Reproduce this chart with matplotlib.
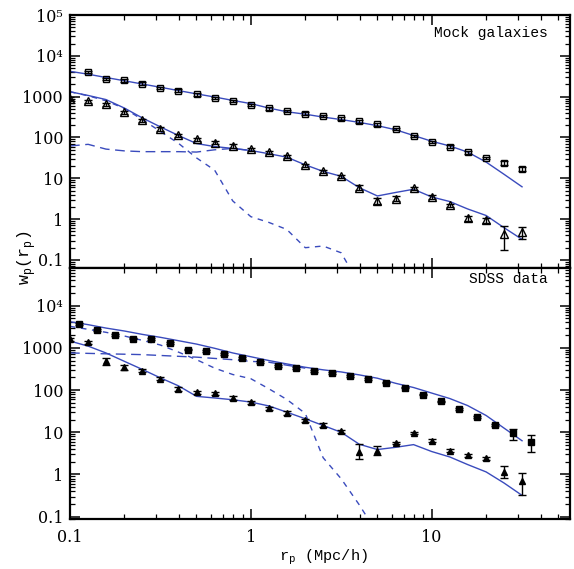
import numpy as np
import matplotlib
matplotlib.use('Agg')
from matplotlib import pyplot as plt
from matplotlib.ticker import FixedLocator, LogLocator, FuncFormatter, NullFormatter

plt.rcParams['mathtext.fontset'] = 'custom'
plt.rcParams['mathtext.rm'] = 'Liberation Mono'

# ---- data ----
# bin centres (Mpc/h)
rp_bins = [0.1, 0.126, 0.158, 0.2, 0.251, 0.316, 0.398, 0.501, 0.631, 0.794,
           1.0, 1.26, 1.58, 2.0, 2.51, 3.16, 3.98, 5.01, 6.31, 7.94,
           10.0, 12.6, 15.8, 20.0, 25.1, 31.6]
rp_sdss = [0.112, 0.141, 0.178, 0.224, 0.282, 0.355, 0.447, 0.562, 0.708, 0.891,
           1.12, 1.41, 1.78, 2.24, 2.82, 3.55, 4.47, 5.62, 7.08, 8.91,
           11.2, 14.1, 17.8, 22.4, 28.2, 35.5]

# top panel: mock galaxies
mock_sq = [3980, 2750, 2510, 2090, 1620, 1410, 1140, 925, 795, 630, 516, 444,
           383, 335, 294, 248, 209, 164, 108, 77, 60, 43, 31, 24, 16.8]
mock_sq_err = [0.03]*23 + [0.05, 0.05]
mock_tri = [890, 776, 646, 417, 263, 162, 112, 90, 74, 62, 51, 43, 34.4,
            20.9, 14.8, 11.3, 5.9, 2.8, 3.2, 5.7, 3.5, 2.2, 1.04, 0.93, 0.44, 0.49]
mock_tri_lo = [0.04]*16 + [0.06, 0.07, 0.06, 0.04, 0.04, 0.04, 0.07, 0.06, 0.40, 0.17]
mock_tri_hi = [0.04]*16 + [0.06, 0.07, 0.06, 0.04, 0.04, 0.04, 0.07, 0.06, 0.19, 0.11]

mock_model_hi = [4170, 3550, 2950, 2450, 2040, 1700, 1410, 1170, 980, 810, 676,
                 525, 427, 372, 316, 275, 234, 195, 155, 112, 81, 62, 44, 25, 12.6, 6.2]
mock_model_lo = [1320, 1070, 850, 525, 302, 182, 112, 71, 60, 54, 48, 40, 33,
                 21.4, 14.8, 11.2, 5.9, 3.7, 4.5, 5.4, 3.5, 2.7, 1.78, 1.23, 0.62, 0.32]
mock_1h = [1320, 1050, 794, 513, 275, 141, 72, 31.6, 15.8, 2.8, 1.15, 0.83, 0.56,
           0.2, 0.22, 0.15, 0.025]
mock_2h = [62, 68, 52, 47, 45, 45, 45, 44, 50, 54, 48]

# bottom panel: SDSS
sdss_sq = [3720, 2690, 2000, 1660, 1620, 1290, 912, 832, 708, 569, 457, 367, 331,
           288, 251, 214, 180, 151, 115, 78, 54, 35, 22.7, 14.8, 9.5, 6.0]
sdss_sq_lo = [0.02]*24 + [0.15, 0.25]
sdss_sq_hi = [0.02]*24 + [0.10, 0.15]
sdss_tri = [1580, 1350, 479, 347, 288, 186, 107, 89, 83, 65, 51, 37, 28.8,
            19.1, 14.8, 10.5, 3.5, 3.7, 5.6, 9.7, 6.3, 3.7, 2.85, 2.4, 1.17, 0.72]
sdss_tri_lo = [0.04, 0.04, 0.08, 0.06] + [0.04]*12 + [0.17, 0.11] + [0.03]*6 + [0.14, 0.35]
sdss_tri_hi = [0.04, 0.04, 0.08, 0.06] + [0.04]*12 + [0.17, 0.11] + [0.03]*6 + [0.14, 0.18]

sdss_model_hi = [4170, 3550, 2950, 2510, 2090, 1780, 1480, 1230, 977, 759, 617,
                 501, 417, 347, 302, 269, 229, 191, 145, 115, 85, 63, 43, 25, 12.6, 6.3]
sdss_model_lo = [1450, 1100, 759, 479, 309, 195, 126, 71, 65, 59, 52, 42, 30,
                 20.9, 14.5, 10, 5.2, 3.9, 4.4, 5.1, 3.5, 2.6, 1.72, 1.15, 0.63, 0.32]
sdss_1h = [3240, 2750, 2340, 1910, 1510, 1170, 794, 525, 331, 234, 186, 107, 60,
           28, 2.5, 0.79, 0.19, 0.04]
sdss_2h = [759, 741, 724, 708, 692, 661, 631, 603, 562, 525, 479, 457, 389, 331]

line_col = '#3a4bbd'
tick_font = {'family': 'DejaVu Serif', 'size': 11.5}


def err(vals, lo, hi):
    v = np.array(vals)
    return [v - v / 10**np.array(lo), v * 10**np.array(hi) - v]


def yfmt(v, pos):
    lab = {1e5: '10\u2075', 1e4: '10\u2074', 1000: '1000', 100: '100',
           10: '10', 1: '1', 0.1: '0.1'}
    for k in lab:
        if abs(v - k) / k < 1e-6:
            return lab[k]
    return ''


def style_axis(ax, majors):
    ax.set_xscale('log')
    ax.set_yscale('log')
    ax.set_xlim(0.1, 58.2)
    ax.xaxis.set_major_locator(FixedLocator([0.1, 1, 10]))
    ax.xaxis.set_minor_locator(LogLocator(base=10, subs=range(2, 10), numticks=20))
    ax.yaxis.set_major_locator(FixedLocator(majors))
    ax.yaxis.set_minor_locator(LogLocator(base=10, subs=range(2, 10), numticks=20))
    ax.yaxis.set_major_formatter(FuncFormatter(yfmt))
    ax.yaxis.set_minor_formatter(NullFormatter())
    ax.xaxis.set_minor_formatter(NullFormatter())
    ax.tick_params(which='both', direction='in', top=True, right=True)
    ax.tick_params(which='major', length=7, width=1.1, pad=5)
    ax.tick_params(which='minor', length=3.5, width=0.9)
    for s in ax.spines.values():
        s.set_linewidth(1.6)
    for lab in ax.get_yticklabels() + ax.get_xticklabels():
        lab.set_fontfamily(tick_font['family'])
        lab.set_fontsize(tick_font['size'])


fig = plt.figure(figsize=(5.74, 5.69), dpi=100)
ax1 = fig.add_axes([70/574, 1-268/569, 500/574, 253/569])
ax2 = fig.add_axes([70/574, 1-519/569, 500/574, 251/569])

# top panel
ax1.plot(rp_bins, mock_model_hi, color=line_col, lw=1.0)
ax1.plot(rp_bins, mock_model_lo, color=line_col, lw=1.0)
ax1.plot(rp_bins[:len(mock_1h)], mock_1h, color=line_col, lw=1.0, ls=(0, (4, 4)))
ax1.plot(rp_bins[:len(mock_2h)], mock_2h, color=line_col, lw=1.0, ls=(0, (7, 4)))
ax1.errorbar(rp_bins[1:], mock_sq, yerr=err(mock_sq, mock_sq_err, mock_sq_err),
             fmt='s', ms=5, mfc='none', mec='black', mew=1.0, ecolor='black',
             elinewidth=1.0, capsize=3, capthick=1.0)
ax1.errorbar(rp_bins, mock_tri, yerr=err(mock_tri, mock_tri_lo, mock_tri_hi),
             fmt='^', ms=5.5, mfc='none', mec='black', mew=1.0, ecolor='black',
             elinewidth=1.0, capsize=3, capthick=1.0)
ax1.set_ylim(10**-1.196, 1e5)
style_axis(ax1, [0.1, 1, 10, 100, 1000, 1e4, 1e5])
ax1.tick_params(labelbottom=False)
ax1.text(0.955, 0.955, 'Mock galaxies', transform=ax1.transAxes, ha='right', va='top',
         family='Liberation Mono', fontsize=10.5)

# bottom panel
ax2.plot(rp_bins, sdss_model_hi, color=line_col, lw=1.0)
ax2.plot(rp_bins, sdss_model_lo, color=line_col, lw=1.0)
ax2.plot(rp_bins[:len(sdss_1h)], sdss_1h, color=line_col, lw=1.0, ls=(0, (4, 4)))
ax2.plot(rp_bins[:len(sdss_2h)], sdss_2h, color=line_col, lw=1.0, ls=(0, (7, 4)))
ax2.errorbar(rp_sdss, sdss_sq, yerr=err(sdss_sq, sdss_sq_lo, sdss_sq_hi),
             fmt='s', ms=5, mfc='black', mec='black', ecolor='black',
             elinewidth=1.0, capsize=3, capthick=1.0)
ax2.errorbar(rp_bins, sdss_tri, yerr=err(sdss_tri, sdss_tri_lo, sdss_tri_hi),
             fmt='^', ms=5, mfc='black', mec='black', ecolor='black',
             elinewidth=1.0, capsize=3, capthick=1.0)
ax2.set_ylim(10**-1.055, 10**4.893)
style_axis(ax2, [0.1, 1, 10, 100, 1000, 1e4])
ax2.tick_params(axis='x', pad=7)
ax2.xaxis.set_major_formatter(FuncFormatter(lambda v, p: {0.1: '0.1', 1: '1', 10: '10'}.get(round(v, 3), '')))
for lab in ax2.get_xticklabels():
    lab.set_fontfamily(tick_font['family'])
    lab.set_fontsize(tick_font['size'])
ax2.text(0.955, 0.985, 'SDSS data', transform=ax2.transAxes, ha='right', va='top',
         family='Liberation Mono', fontsize=10.5)

fig.text(323/574, 1-557/569, r'r$_\mathrm{p}$ (Mpc/h)', ha='center', va='center',
         family='Liberation Mono', fontsize=11)
fig.text(27/574, 1-258/569, r'w$_\mathrm{p}$(r$_\mathrm{p}$)', ha='center', va='center',
         rotation=90, family='Liberation Mono', fontsize=12)

plt.savefig('out.png', dpi=100)
